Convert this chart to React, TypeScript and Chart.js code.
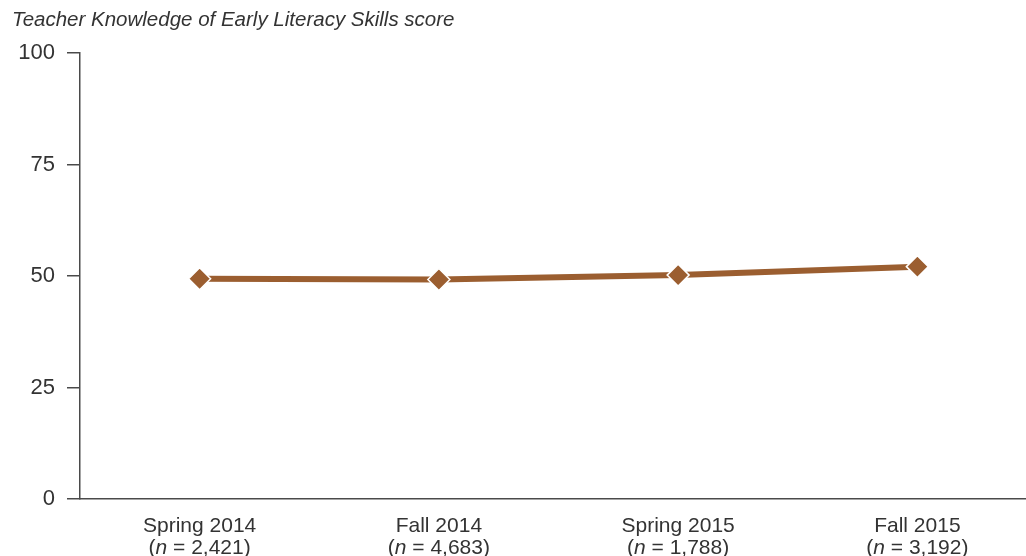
import React, { useEffect, useRef } from "react";
import { Chart, registerables } from "chart.js";

Chart.register(...registerables);

const titleText = "Teacher Knowledge of Early Literacy Skills score";
const categories = ["Spring 2014", "Fall 2014", "Spring 2015", "Fall 2015"];
const sampleSizes = ["2,421", "4,683", "1,788", "3,192"];
const scores = [49.4, 49.2, 50.2, 52.1];
const yTicks = [0, 25, 50, 75, 100];

const LINE_COLOR = "#9b5e30";
const TEXT_COLOR = "#333333";
const AXIS_COLOR = "#4a4a4a";
const FONT = "'Liberation Sans', Arial, sans-serif";
const XFONT_SIZE = 21;

const xLabelPlugin = {
  id: "xLabels",
  afterDraw(chart: any) {
    const ctx = chart.ctx;
    const xs = chart.scales.x;
    const bottom = chart.chartArea.bottom;
    ctx.save();
    ctx.fillStyle = TEXT_COLOR;
    ctx.textBaseline = "middle";
    const normal = `${XFONT_SIZE}px ${FONT}`;
    const italic = `italic ${XFONT_SIZE}px ${FONT}`;
    categories.forEach((cat, i) => {
      const x = xs.getPixelForValue(i);
      ctx.font = normal;
      ctx.textAlign = "center";
      ctx.fillText(cat, x, bottom + 27);
      const p1 = "(";
      const p2 = "n";
      const p3 = ` = ${sampleSizes[i]})`;
      ctx.font = normal;
      const w1 = ctx.measureText(p1).width;
      const w3 = ctx.measureText(p3).width;
      ctx.font = italic;
      const w2 = ctx.measureText(p2).width;
      const total = w1 + w2 + w3;
      let cx = x - total / 2;
      ctx.textAlign = "left";
      ctx.font = normal;
      ctx.fillText(p1, cx, bottom + 49);
      cx += w1;
      ctx.font = italic;
      ctx.fillText(p2, cx, bottom + 49);
      cx += w2;
      ctx.font = normal;
      ctx.fillText(p3, cx, bottom + 49);
    });
    ctx.restore();
  },
};

export default function App() {
  const canvasRef = useRef<HTMLCanvasElement | null>(null);

  useEffect(() => {
    document.body.style.margin = "0";
    const canvas = canvasRef.current;
    if (!canvas) return;
    const chart = new Chart(canvas, {
      type: "line",
      data: {
        datasets: [
          {
            data: scores.map((v, i) => ({ x: i, y: v })),
            borderColor: LINE_COLOR,
            borderWidth: 6,
            backgroundColor: LINE_COLOR,
            pointStyle: "rectRot",
            pointRadius: 11,
            pointBackgroundColor: LINE_COLOR,
            pointBorderColor: "#ffffff",
            pointBorderWidth: 1.5,
            tension: 0,
          },
        ],
      },
      options: {
        animation: false,
        responsive: false,
        maintainAspectRatio: false,
        layout: { autoPadding: false, padding: { left: 12, right: 0, top: 0, bottom: 0 } },
        plugins: {
          legend: { display: false },
          tooltip: { enabled: false },
          title: {
            display: true,
            text: titleText,
            align: "start",
            color: TEXT_COLOR,
            font: { family: FONT, size: 20.5, style: "italic", weight: "normal", lineHeight: 1.2 },
            padding: { top: 8, bottom: 20.4 },
          },
        },
        scales: {
          x: {
            type: "linear",
            min: -0.5,
            max: 3.454,
            grid: { display: false, drawTicks: false },
            border: { display: true, color: AXIS_COLOR, width: 1.5 },
            ticks: { display: false },
            afterFit(scale: any) {
              scale.height = 57;
              scale.paddingLeft = 0;
              scale.paddingRight = 0;
            },
          },
          y: {
            min: 0,
            max: 100,
            afterBuildTicks(scale: any) {
              scale.ticks = yTicks.map((v) => ({ value: v }));
            },
            grid: {
              drawOnChartArea: false,
              drawTicks: true,
              tickLength: 13,
              color: AXIS_COLOR,
              lineWidth: 1.5,
            },
            border: { display: true, color: AXIS_COLOR, width: 1.5 },
            ticks: {
              padding: 12,
              color: TEXT_COLOR,
              font: { family: FONT, size: 22 },
            },
            afterFit(scale: any) {
              scale.width = 68;
            },
          },
        },
      },
      plugins: [xLabelPlugin],
    });
    return () => chart.destroy();
  }, []);

  return (
    <div style={{ width: 1026, height: 556 }}>
      <canvas ref={canvasRef} width={1026} height={556} style={{ display: "block" }} />
    </div>
  );
}
